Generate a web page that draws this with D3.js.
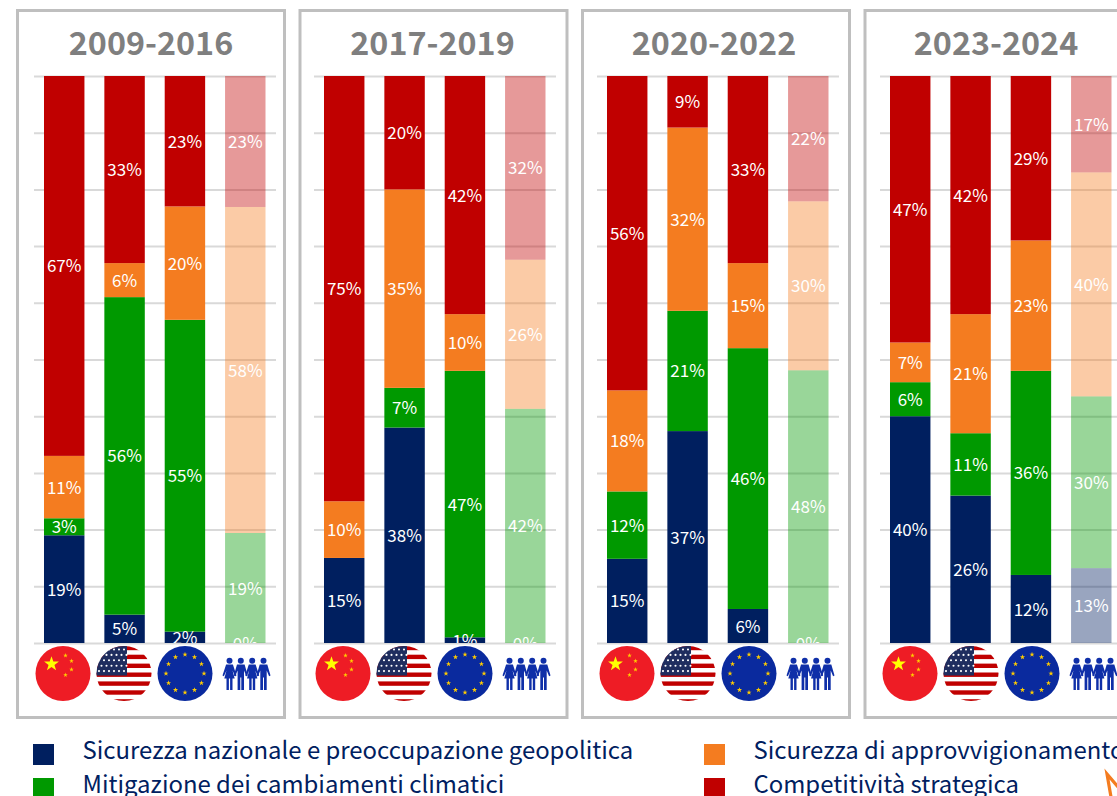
<!DOCTYPE html>
<html><head><meta charset="utf-8">
<script src="https://cdn.jsdelivr.net/npm/d3@7"></script>
<style>html,body{margin:0;padding:0;background:#fff;overflow:hidden}svg{display:block;font-family:"Noto Sans CJK JP","Noto Sans",sans-serif}</style>
</head><body><svg id="c" width="1117" height="796"></svg>
<script>
const periods = ["2009-2016","2017-2019","2020-2022","2023-2024"];
const actors = ["Cina","USA","UE","Pubblico"];
const seriesNames = ["Sicurezza nazionale e preoccupazione geopolitica","Mitigazione dei cambiamenti climatici","Sicurezza di approvvigionamento","Competitività strategica"];
const seriesColors = ["#001f5f","#009900","#f47c20","#c00000"];
// printed labels, per period and actor
const security = [[19,5,2,0],[15,38,1,0],[15,37,6,0],[40,26,12,13]];
const climate  = [[3,56,55,19],[0,7,47,42],[12,21,46,48],[6,11,36,30]];
const supply   = [[11,6,20,58],[10,35,10,26],[18,32,15,30],[7,21,23,40]];
const compet   = [[67,33,23,23],[75,20,42,32],[56,9,33,22],[47,42,29,17]];
// public-opinion bars as read from their heights (labels differ slightly), per period: security, climate, supply, competitiveness
const publicBars = [[0,19.4,57.5,23.1],[0,41.3,26.3,32.4],[0,48.1,29.8,22.1],[13.2,30.3,39.5,17]];
const yTicks = [0,0.1,0.2,0.3,0.4,0.5,0.6,0.7,0.8,0.9,1];

const svg = d3.select("#c");
const defs = svg.append("defs");
const keys = d3.range(4);
const labelArrays = [security,climate,supply,compet];
const color = d3.scaleOrdinal(keys, seriesColors);
const y = d3.scaleLinear([0,1],[643,76]);
const panelX = [17.5,300,582.5,865];
const panelW = 267;
const barStart = [44,324,607,890];
const iconStart = [63,343,627,910];
const titleX = [151,432.5,714,996];
const starPath = (r)=>{let p="";for(let i=0;i<10;i++){const a=-Math.PI/2+i*Math.PI/5,q=i%2?r*0.4:r;p+=(i?"L":"M")+(q*Math.cos(a)).toFixed(2)+","+(q*Math.sin(a)).toFixed(2);}return p+"Z";};

function flagChina(g){
  g.append("circle").attr("r",27.5).attr("fill","#ee1c25");
  g.append("path").attr("d",starPath(7.8)).attr("transform","translate(-11.5,-9.5)").attr("fill","#ffff00");
  [[2.5,-18],[8.5,-12.5],[8.5,-4],[2.5,1.5]].forEach(s=>g.append("path").attr("d",starPath(2.4)).attr("transform",`translate(${s[0]},${s[1]})`).attr("fill","#ffcc00"));
}
let clipN=0;
function flagUS(g){
  const id="us"+(clipN++);
  defs.append("clipPath").attr("id",id).append("circle").attr("r",27.5);
  const f=g.append("g").attr("clip-path",`url(#${id})`);
  f.append("rect").attr("x",-28).attr("y",-28).attr("width",56).attr("height",56).attr("fill","#fff");
  d3.range(7).forEach(i=>f.append("rect").attr("x",-28).attr("y",-27.7+i*8.9).attr("width",56).attr("height",4.4).attr("fill","#c00000"));
  f.append("rect").attr("x",-28).attr("y",-28).attr("width",31).attr("height",30).attr("fill","#1f2d5f");
  for(let r=0;r<5;r++)for(let c=0;c<6;c++){
    f.append("circle").attr("cx",-25+c*5+(r%2?2.5:0)).attr("cy",-24+r*5.4).attr("r",1.05).attr("fill","#fff");
  }
}
function flagEU(g){
  g.append("circle").attr("r",27.5).attr("fill","#0a2a9e");
  d3.range(12).forEach(i=>{const a=i*Math.PI/6;
    g.append("path").attr("d",starPath(2.7)).attr("transform",`translate(${19*Math.sin(a)},${-19*Math.cos(a)})`).attr("fill","#ffcc00");});
}
function people(g){
  const col="#0f2fa8";
  [-16.5,-5.2,6.2,17.5].forEach((dx,i)=>{
    const p=g.append("g").attr("transform",`translate(${dx},0)`);
    p.append("circle").attr("cy",-12.7).attr("r",3).attr("fill",col);
    if(i%2==0){
      p.append("path").attr("d","M-3.4,-9 L3.4,-9 L7,2 L5.6,2.7 L3,-3 L5.2,5 L-5.2,5 L-3,-3 L-5.6,2.7 L-7,2 Z").attr("fill",col);
      p.append("rect").attr("x",-3).attr("y",4.5).attr("width",2.4).attr("height",12).attr("fill",col);
      p.append("rect").attr("x",0.6).attr("y",4.5).attr("width",2.4).attr("height",12).attr("fill",col);
    } else {
      p.append("path").attr("d","M-3.8,-9 L3.8,-9 L7,2 L5.6,2.7 L3.2,-3 L3.2,16.5 L0.5,16.5 L0.5,4 L-0.5,4 L-0.5,16.5 L-3.2,16.5 L-3.2,-3 L-5.6,2.7 L-7,2 Z").attr("fill",col);
    }
  });
}
const iconFns=[flagChina,flagUS,flagEU,people];

periods.forEach((period,pi)=>{
  svg.append("rect").attr("x",panelX[pi]).attr("y",10.5).attr("width",panelW).attr("height",707).attr("fill","#fff").attr("stroke","#bfbfbf").attr("stroke-width",3);
  svg.append("text").attr("x",titleX[pi]).attr("y",55).attr("text-anchor","middle").attr("font-size",32.3).attr("font-weight",700).attr("fill","#7f7f7f").text(period);

  const s0=barStart[pi];
  const x=d3.scaleBand(actors,[s0,s0+221.5]).paddingInner(0.33).paddingOuter(0);
  const gridAxis=d3.axisLeft(y).tickValues(yTicks).tickSize(-242).tickFormat("");
  const grid=svg.append("g").attr("transform",`translate(${s0-10},0)`).call(gridAxis);
  grid.select(".domain").remove();
  grid.selectAll("line").attr("stroke","#d9d9d9").attr("stroke-width",2);

  const rows=actors.map((a,i)=>{
    const r={actor:a,idx:i};
    keys.forEach(k=>{ r[k]= a==="Pubblico" ? publicBars[pi][k] : labelArrays[k][pi][i]; });
    return r;
  });
  const stacked=d3.stack().keys(keys).offset(d3.stackOffsetExpand)(rows);
  const clipId="p"+pi;
  defs.append("clipPath").attr("id",clipId).append("rect").attr("x",0).attr("y",76).attr("width",1117).attr("height",567);
  stacked.forEach(s=>{
    svg.append("g").selectAll("rect").data(s).join("rect")
      .attr("x",d=>x(d.data.actor)).attr("width",x.bandwidth())
      .attr("y",d=>y(d[1])).attr("height",d=>y(d[0])-y(d[1]))
      .attr("fill",color(s.key)).attr("fill-opacity",d=>d.data.actor==="Pubblico"?0.4:1);
  });
  const lab=svg.append("g").attr("clip-path",`url(#${clipId})`);
  stacked.forEach(s=>{
    lab.selectAll(null).data(s.filter(d=>labelArrays[s.key][pi][d.data.idx]>0||(d.data.actor==="Pubblico"&&s.key===0))).join("text")
      .attr("x",d=>x(d.data.actor)+x.bandwidth()/2)
      .attr("y",d=>(y(d[0])+y(d[1]))/2+0.4).attr("dy","0.36em")
      .attr("text-anchor","middle").attr("font-size",17).attr("fill","#fff")
      .text(d=>labelArrays[s.key][pi][d.data.idx]+"%");
  });
  actors.forEach((a,i)=>{
    const g=svg.append("g").attr("transform",`translate(${iconStart[pi]+i*61},673.5)`);
    iconFns[i](g);
  });
});

const legendX=[[33,82.5],[704,753.5]];
const legendY=[744,778];
const legendBase=[759,793];
[[0,0,0],[1,0,1],[2,1,0],[3,1,1]].forEach(([k,c,r])=>{
  svg.append("rect").attr("x",legendX[c][0]).attr("y",legendY[r]).attr("width",21).attr("height",21).attr("fill",seriesColors[k]);
  svg.append("text").attr("x",legendX[c][1]).attr("y",legendBase[r]).attr("font-size",23.9).attr("fill","#002060").text(seriesNames[k]);
});
svg.append("path").attr("d","M1118,787 L1107,774 L1111,797").attr("fill","none").attr("stroke","#f47c20").attr("stroke-width",3.2);
</script></body></html>
